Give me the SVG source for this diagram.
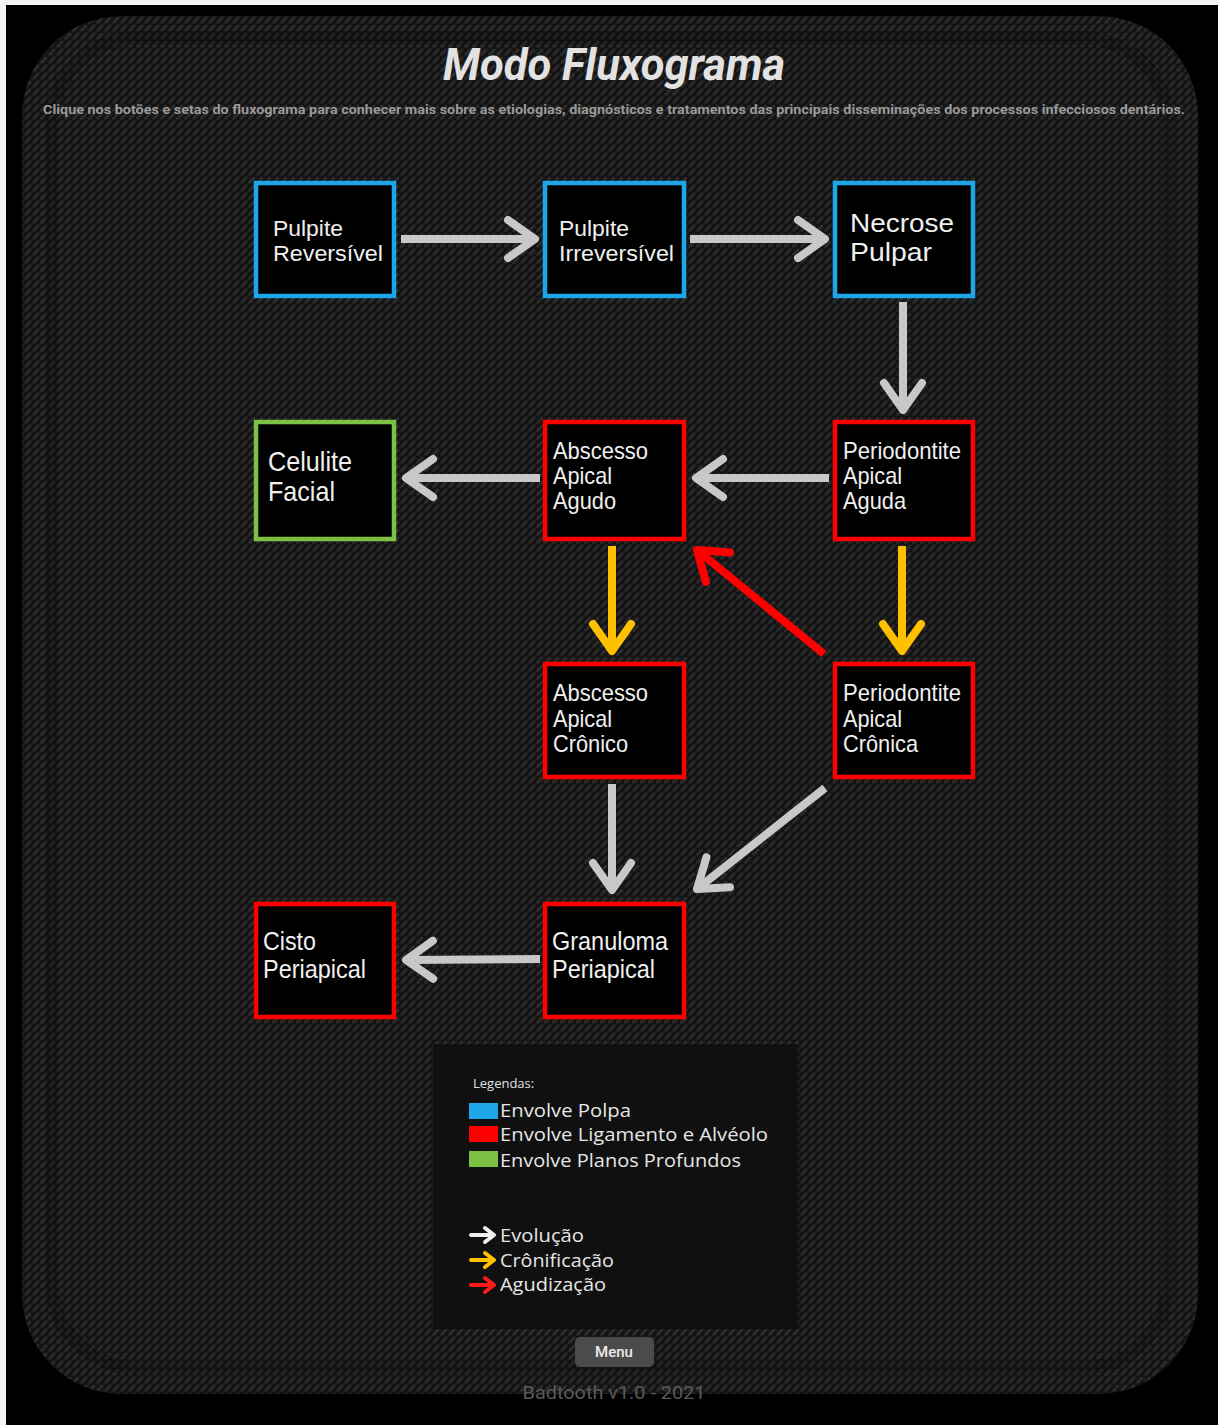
<svg xmlns="http://www.w3.org/2000/svg" width="1218" height="1425" viewBox="0 0 1218 1425">
<defs>
  <pattern id="carbon" width="8" height="8" patternUnits="userSpaceOnUse">
    <rect width="8" height="8" fill="#151515"/>
    <path d="M1.5,6.5 L6,2" stroke="#2c2c2c" stroke-width="2.6" stroke-linecap="round"/>
  </pattern>
  <marker id="hg" markerUnits="userSpaceOnUse" viewBox="-40 -30 50 60" refX="0" refY="0" markerWidth="50" markerHeight="60" orient="auto" overflow="visible">
    <path d="M-27,-19 L0,0 L-27,19" fill="none" stroke="#c8c8c8" stroke-width="8" stroke-linecap="round" stroke-linejoin="round"/>
  </marker>
  <marker id="hy" markerUnits="userSpaceOnUse" viewBox="-40 -30 50 60" refX="0" refY="0" markerWidth="50" markerHeight="60" orient="auto" overflow="visible">
    <path d="M-27,-19 L0,0 L-27,19" fill="none" stroke="#ffc000" stroke-width="8" stroke-linecap="round" stroke-linejoin="round"/>
  </marker>
  <marker id="hr" markerUnits="userSpaceOnUse" viewBox="-40 -30 50 60" refX="0" refY="0" markerWidth="50" markerHeight="60" orient="auto" overflow="visible">
    <path d="M-27,-19 L0,0 L-27,19" fill="none" stroke="#ff0000" stroke-width="8" stroke-linecap="round" stroke-linejoin="round"/>
  </marker>
  <style>
    .box { fill: #000; stroke-width: 4.5; }
    .blue { stroke: #1ea7e8; }
    .red { stroke: #ff0000; }
    .green { stroke: #7cc144; }
    .lbl { font-family: "Liberation Sans", Arial, sans-serif; fill: #f0f0f0; }
    .arr { fill: none; stroke-width: 8; }
    .g { stroke: #c8c8c8; }
    .y { stroke: #ffc000; }
    .r { stroke: #ff0000; }
    .leg { font-family: "Open Sans", sans-serif; fill: #e6e6e6; font-size: 17.5px; }
    .la { fill: none; stroke-width: 4; stroke-linecap: round; stroke-linejoin: round; }
  </style>
</defs>

<rect x="0" y="0" width="1218" height="1425" fill="#f4f4f4"/>
<rect x="6" y="5" width="1212" height="1420" fill="#000"/>
<rect x="22" y="16" width="1176" height="1378" rx="100" ry="100" fill="url(#carbon)"/>
<rect x="52" y="38" width="1116" height="1330" rx="85" ry="85" fill="none" stroke="#000" stroke-opacity="0.15" stroke-width="14"/>

<g id="title">
  <text x="614" y="80" text-anchor="middle" font-family="Roboto, sans-serif" font-weight="bold" font-style="italic" font-size="45" fill="#e2e2e2" textLength="342" lengthAdjust="spacingAndGlyphs">Modo Fluxograma</text>
  <text x="614" y="114" text-anchor="middle" font-family="Roboto, sans-serif" font-weight="bold" font-size="13.5" fill="#9a9a9a" textLength="1142" lengthAdjust="spacingAndGlyphs">Clique nos botões e setas do fluxograma para conhecer mais sobre as etiologias, diagnósticos e tratamentos das principais disseminações dos processos infecciosos dentários.</text>
</g>

<g id="connectors">
  <line class="arr g" x1="401" y1="239" x2="535" y2="239" marker-end="url(#hg)"/>
  <line class="arr g" x1="690" y1="239" x2="825" y2="239" marker-end="url(#hg)"/>
  <line class="arr g" x1="903" y1="302" x2="903" y2="410" marker-end="url(#hg)"/>
  <line class="arr g" x1="829" y1="478" x2="696" y2="478" marker-end="url(#hg)"/>
  <line class="arr g" x1="540" y1="478" x2="406" y2="478" marker-end="url(#hg)"/>
  <line class="arr y" x1="612" y1="546" x2="612" y2="651" marker-end="url(#hy)"/>
  <line class="arr y" x1="902" y1="546" x2="902" y2="651" marker-end="url(#hy)"/>
  <line class="arr r" x1="824" y1="654" x2="697" y2="550" marker-end="url(#hr)"/>
  <line class="arr g" x1="612" y1="784" x2="612" y2="890" marker-end="url(#hg)"/>
  <line class="arr g" x1="825" y1="788" x2="697" y2="889" marker-end="url(#hg)"/>
  <line class="arr g" x1="540" y1="959" x2="406" y2="960" marker-end="url(#hg)"/>
</g>

<g id="n-pulpite-reversivel">
  <rect class="box blue" x="256" y="183" width="138" height="113"/>
  <text class="lbl" font-size="22" x="273" y="236" textLength="70" lengthAdjust="spacingAndGlyphs">Pulpite</text>
  <text class="lbl" font-size="22" x="273" y="261" textLength="110" lengthAdjust="spacingAndGlyphs">Reversível</text>
</g>
<g id="n-pulpite-irreversivel">
  <rect class="box blue" x="545" y="183" width="139" height="113"/>
  <text class="lbl" font-size="22" x="559" y="236" textLength="70" lengthAdjust="spacingAndGlyphs">Pulpite</text>
  <text class="lbl" font-size="22" x="559" y="261" textLength="115" lengthAdjust="spacingAndGlyphs">Irreversível</text>
</g>
<g id="n-necrose-pulpar">
  <rect class="box blue" x="835" y="183" width="138" height="113"/>
  <text class="lbl" font-size="26" x="850" y="232" textLength="104" lengthAdjust="spacingAndGlyphs">Necrose</text>
  <text class="lbl" font-size="26" x="850" y="261" textLength="82" lengthAdjust="spacingAndGlyphs">Pulpar</text>
</g>

<g id="n-celulite-facial">
  <rect class="box green" x="256" y="422" width="138" height="117"/>
  <text class="lbl" font-size="28" x="268" y="471" textLength="84" lengthAdjust="spacingAndGlyphs">Celulite</text>
  <text class="lbl" font-size="28" x="268" y="501" textLength="67" lengthAdjust="spacingAndGlyphs">Facial</text>
</g>
<g id="n-abscesso-apical-agudo">
  <rect class="box red" x="545" y="422" width="139" height="117"/>
  <text class="lbl" font-size="24" x="553" y="459" textLength="95" lengthAdjust="spacingAndGlyphs">Abscesso</text>
  <text class="lbl" font-size="24" x="553" y="484" textLength="59" lengthAdjust="spacingAndGlyphs">Apical</text>
  <text class="lbl" font-size="24" x="553" y="509" textLength="63" lengthAdjust="spacingAndGlyphs">Agudo</text>
</g>
<g id="n-periodontite-apical-aguda">
  <rect class="box red" x="835" y="422" width="138" height="117"/>
  <text class="lbl" font-size="24" x="843" y="459" textLength="118" lengthAdjust="spacingAndGlyphs">Periodontite</text>
  <text class="lbl" font-size="24" x="843" y="484" textLength="59" lengthAdjust="spacingAndGlyphs">Apical</text>
  <text class="lbl" font-size="24" x="843" y="509" textLength="63" lengthAdjust="spacingAndGlyphs">Aguda</text>
</g>

<g id="n-abscesso-apical-cronico">
  <rect class="box red" x="545" y="664" width="139" height="113"/>
  <text class="lbl" font-size="24" x="553" y="701" textLength="95" lengthAdjust="spacingAndGlyphs">Abscesso</text>
  <text class="lbl" font-size="24" x="553" y="727" textLength="59" lengthAdjust="spacingAndGlyphs">Apical</text>
  <text class="lbl" font-size="24" x="553" y="752" textLength="75" lengthAdjust="spacingAndGlyphs">Crônico</text>
</g>
<g id="n-periodontite-apical-cronica">
  <rect class="box red" x="835" y="664" width="138" height="113"/>
  <text class="lbl" font-size="24" x="843" y="701" textLength="118" lengthAdjust="spacingAndGlyphs">Periodontite</text>
  <text class="lbl" font-size="24" x="843" y="727" textLength="59" lengthAdjust="spacingAndGlyphs">Apical</text>
  <text class="lbl" font-size="24" x="843" y="752" textLength="75" lengthAdjust="spacingAndGlyphs">Crônica</text>
</g>

<g id="n-cisto-periapical">
  <rect class="box red" x="256" y="904" width="138" height="113"/>
  <text class="lbl" font-size="26" x="263" y="950" textLength="53" lengthAdjust="spacingAndGlyphs">Cisto</text>
  <text class="lbl" font-size="26" x="263" y="978" textLength="103" lengthAdjust="spacingAndGlyphs">Periapical</text>
</g>
<g id="n-granuloma-periapical">
  <rect class="box red" x="545" y="904" width="139" height="113"/>
  <text class="lbl" font-size="26" x="552" y="950" textLength="116" lengthAdjust="spacingAndGlyphs">Granuloma</text>
  <text class="lbl" font-size="26" x="552" y="978" textLength="103" lengthAdjust="spacingAndGlyphs">Periapical</text>
</g>

<g id="legend">
  <rect x="433" y="1044" width="365" height="285" fill="#101010"/>
  <text x="473" y="1088" font-family="Open Sans, sans-serif" font-size="13" fill="#e0e0e0">Legendas:</text>
  <rect x="469" y="1103" width="29" height="16" fill="#1ea7e8"/>
  <rect x="469" y="1126" width="29" height="16" fill="#ff0000"/>
  <rect x="469" y="1151" width="29" height="16" fill="#7cc144"/>
  <text class="leg" x="500" y="1117" textLength="131" lengthAdjust="spacingAndGlyphs">Envolve Polpa</text>
  <text class="leg" x="500" y="1141" textLength="268" lengthAdjust="spacingAndGlyphs">Envolve Ligamento e Alvéolo</text>
  <text class="leg" x="500" y="1167" textLength="241" lengthAdjust="spacingAndGlyphs">Envolve Planos Profundos</text>
  <path class="la" d="M471,1235 H494 M485,1228 L494,1235 L485,1242" stroke="#eeeeee"/>
  <path class="la" d="M471,1260 H494 M485,1253 L494,1260 L485,1267" stroke="#ffc000"/>
  <path class="la" d="M471,1285 H494 M485,1278 L494,1285 L485,1292" stroke="#ff1a1a"/>
  <text class="leg" x="500" y="1242" textLength="84" lengthAdjust="spacingAndGlyphs">Evolução</text>
  <text class="leg" x="500" y="1267" textLength="114" lengthAdjust="spacingAndGlyphs">Crônificação</text>
  <text class="leg" x="500" y="1291" textLength="106" lengthAdjust="spacingAndGlyphs">Agudização</text>
</g>

<g id="menu">
  <rect x="575" y="1337" width="79" height="30" rx="5" fill="#4b4b4b"/>
  <text x="614" y="1357" text-anchor="middle" font-family="Roboto, sans-serif" font-weight="500" font-size="15" fill="#ececec">Menu</text>
</g>
<text x="614" y="1399" text-anchor="middle" font-family="Roboto, sans-serif" font-size="19" fill="#5a5a5a" textLength="183" lengthAdjust="spacingAndGlyphs">Badtooth v1.0 - 2021</text>
</svg>
